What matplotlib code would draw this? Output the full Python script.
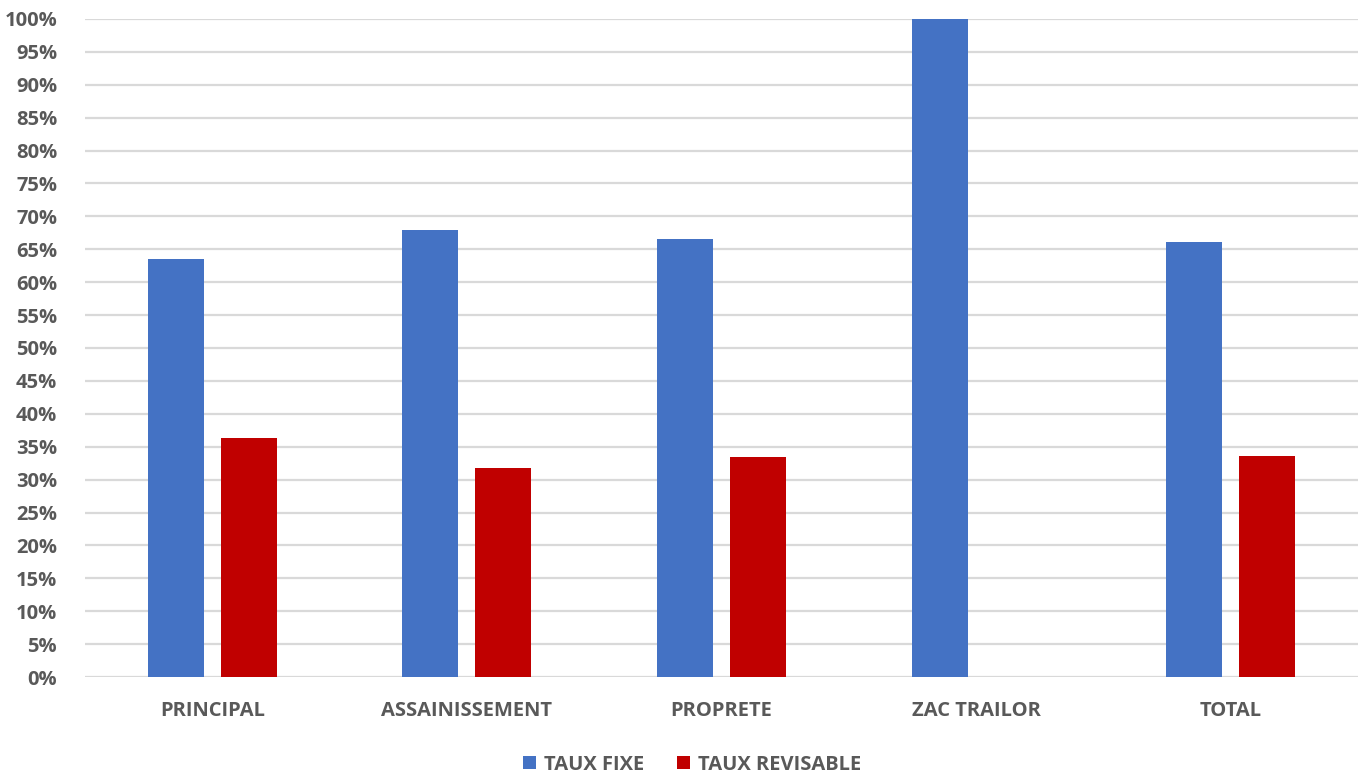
import matplotlib
matplotlib.use("Agg")
import matplotlib.pyplot as plt
import numpy as np
from matplotlib.ticker import FuncFormatter

categories = ["PRINCIPAL", "ASSAINISSEMENT", "PROPRETE", "ZAC TRAILOR", "TOTAL"]
taux_fixe = [63.5, 68.0, 66.5, 100.0, 66.1]
taux_revisable = [36.3, 31.8, 33.4, 0.0, 33.6]
series_labels = ["TAUX FIXE", "TAUX REVISABLE"]
y_ticks = list(range(0, 101, 5))

BLUE = "#4472C4"
RED = "#C00000"
TEXT = "#595959"
GRID = "#D9D9D9"

plt.rcParams["font.family"] = ["Open Sans", "DejaVu Sans"]
plt.rcParams["font.weight"] = "bold"

fig = plt.figure(figsize=(13.68, 7.74), dpi=100)
ax = fig.add_axes([0.0621, 0.1253, 0.9306, 0.8502])

x = np.arange(len(categories))
width = 0.22
offset = 0.1434
ax.bar(x - offset, taux_fixe, width, color=BLUE, label=series_labels[0], zorder=3)
ax.bar(x + offset, taux_revisable, width, color=RED, label=series_labels[1], zorder=3)

ax.set_xlim(-0.5, len(categories) - 0.5)
ax.set_ylim(0, 100)
ax.set_yticks(y_ticks)
ax.yaxis.set_major_formatter(FuncFormatter(lambda v, p: f"{int(v)}%"))
ax.set_xticks(x)
ax.set_xticklabels(categories)

ax.grid(axis="y", color=GRID, linewidth=1.6, zorder=0)
for s in ax.spines.values():
    s.set_visible(False)
ax.tick_params(axis="both", length=0, colors=TEXT, labelsize=14.5)
ax.tick_params(axis="y", pad=20)
ax.tick_params(axis="x", pad=17)
for lab in ax.get_xticklabels() + ax.get_yticklabels():
    lab.set_fontweight("bold")
    lab.set_color(TEXT)

leg = fig.legend(loc="center", bbox_to_anchor=(0.506, 0.012), ncol=2, frameon=False,
                 fontsize=14.5, handlelength=0.65, handleheight=0.65, handletextpad=0.4,
                 columnspacing=1.6)
for t in leg.get_texts():
    t.set_color(TEXT)
    t.set_fontweight("bold")

fig.savefig("out.png", dpi=100)
